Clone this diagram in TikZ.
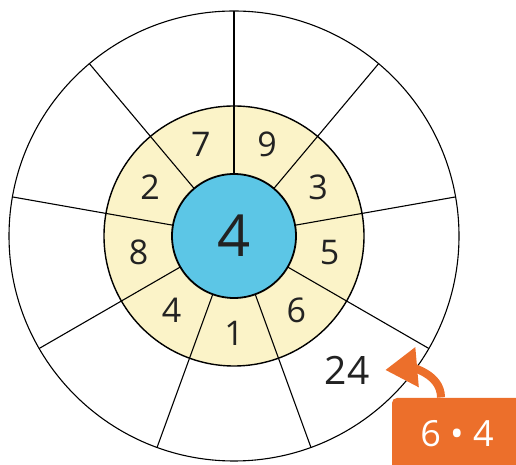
\documentclass[tikz,border=0pt]{standalone}
\usepackage{fontspec}
\setmainfont{Open Sans}
\usetikzlibrary{positioning,arrows.meta}
\definecolor{ringyellow}{HTML}{FBF3C8}
\definecolor{hubblue}{HTML}{5CC6E6}
\definecolor{hintorange}{HTML}{EC6F2B}
\definecolor{inkgray}{HTML}{222222}

\begin{document}
\begin{tikzpicture}[x=1pt, y=1pt, line width=1.1pt, digit/.style={text=inkgray, inner sep=0pt, font=\fontsize{34}{34}\selectfont}, hub/.style={circle, draw, fill=hubblue, line width=1.8pt, minimum size=124pt, inner sep=0pt, text=inkgray, font=\fontsize{58}{58}\selectfont}, hintbox/.style={fill=hintorange, rounded corners=5pt, minimum width=130pt, minimum height=72pt, text=white, font=\fontsize{36}{36}\selectfont}]

\useasboundingbox (0,0) rectangle (516,465);
\coordinate (o) at (234,229);

% rings
\draw (o) circle (225);
\filldraw[fill=ringyellow, line width=1.4pt] (o) circle (130);
\foreach \a in {90,50,...,-230}
    \draw[shift={(o)}] (\a:62) -- (\a:225);

\node[hub] (centre) at (o) {4};

% factors
\foreach \n [count=\i] in {9,3,5,6,1,4,8,2,7}
    \node[digit] (f\i) at ([shift={({110-40*\i}:97)}]o) {\n};

% worked example
\node[text=inkgray, font=\fontsize{39}{39}\selectfont] (res) at (347,95) {24};
\node[hintbox] (hint) at (457,31) {6 • 4};

\draw[hintorange, line width=8pt, -{Triangle[length=32pt,width=38pt]}] ([xshift=-16pt]hint.north) to[out=90, in=5] ([xshift=12pt]res.east);
\end{tikzpicture}
\end{document}
